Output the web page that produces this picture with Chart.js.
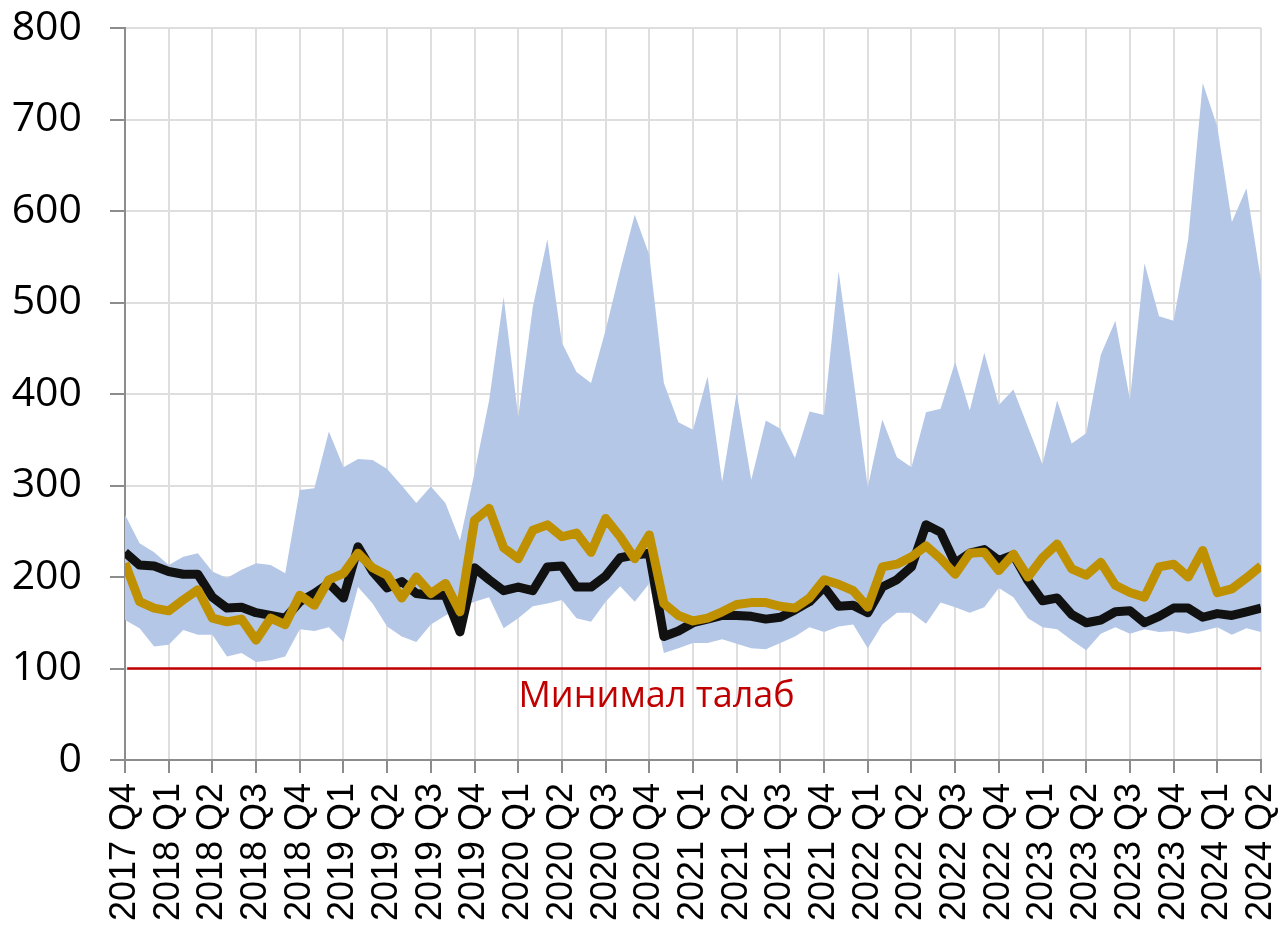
<!DOCTYPE html>
<html>
<head>
<meta charset="utf-8">
<script src="https://cdn.jsdelivr.net/npm/chart.js@4.4.0/dist/chart.umd.min.js"></script>
<style>
  html, body { margin: 0; padding: 0; background: #fff; }
  #wrap { width: 1281px; height: 933px; position: relative; }
</style>
</head>
<body>
<div id="wrap"><canvas id="chart"></canvas></div>
<script>
// Quarter tick labels (one every 3 monthly points)
const quarterLabels = [
  '2017 Q4', '2018 Q1', '2018 Q2', '2018 Q3', '2018 Q4', '2019 Q1', '2019 Q2', '2019 Q3', '2019 Q4',
  '2020 Q1', '2020 Q2', '2020 Q3', '2020 Q4', '2021 Q1', '2021 Q2', '2021 Q3', '2021 Q4',
  '2022 Q1', '2022 Q2', '2022 Q3', '2022 Q4', '2023 Q1', '2023 Q2', '2023 Q3', '2023 Q4',
  '2024 Q1', '2024 Q2'
];

// Band: upper and lower edge (monthly)
const bandUpper = [
  268, 237, 227, 213, 222, 226, 206, 199, 208, 215, 213, 204, 295, 297, 359, 320, 329, 328, 318, 300,
  281, 299, 281, 240, 314, 393, 506, 375, 495, 569, 456, 424, 412, 470, 535, 596, 552, 412, 369, 361,
  419, 304, 401, 306, 371, 362, 330, 381, 377, 534, 418, 298, 372, 331, 320, 380, 384, 435, 382, 445,
  388, 405, 364, 323, 393, 346, 357, 443, 480, 394, 543, 485, 480, 569, 740, 692, 588, 625, 524
];
const bandLower = [
  153, 144, 124, 126, 142, 137, 137, 113, 117, 107, 109, 113, 143, 141, 145, 129, 189, 171, 146, 135,
  129, 148, 158, 166, 173, 178, 144, 155, 168, 171, 175, 155, 151, 173, 190, 173, 193, 117, 122, 128,
  128, 132, 127, 122, 121, 128, 135, 145, 140, 146, 148, 122, 148, 161, 161, 149, 172, 167, 161, 167,
  188, 178, 155, 145, 143, 131, 120, 138, 145, 138, 143, 140, 141, 138, 141, 145, 137, 144, 140
];

// Black line
const blackLine = [
  227, 213, 212, 206, 203, 203, 178, 166, 167, 161, 158, 155, 173, 182, 193, 177, 233, 206, 188, 195,
  182, 180, 180, 140, 210, 197, 185, 189, 185, 211, 212, 189, 189, 201, 221, 224, 226, 135, 141, 150,
  154, 158, 158, 157, 154, 156, 164, 173, 189, 168, 169, 161, 189, 197, 211, 257, 249, 215, 226, 230,
  218, 224, 196, 174, 177, 159, 150, 153, 162, 163, 150, 157, 166, 166, 156, 160, 158, 162, 166
];

// Gold line
const goldLine = [
  215, 173, 166, 163, 175, 186, 155, 151, 154, 131, 155, 148, 180, 169, 197, 204, 226, 210, 202, 177,
  200, 182, 193, 162, 262, 275, 232, 220, 251, 257, 244, 248, 227, 264, 244, 220, 246, 171, 158, 152,
  155, 162, 170, 172, 172, 168, 166, 177, 197, 192, 185, 167, 211, 214, 222, 234, 220, 203, 226, 227,
  207, 225, 200, 221, 236, 209, 202, 216, 191, 183, 178, 211, 214, 200, 229, 183, 187, 199, 212
];

const minLevel = 100;
const minLabel = 'Минимал талаб';

const toPoints = arr => arr.map((v, i) => ({ x: i, y: v }));
const lastIndex = bandUpper.length - 1;

// red caption under the minimum line
const minLabelPlugin = {
  id: 'minLabel',
  afterDatasetsDraw(chart) {
    const ctx = chart.ctx;
    const xs = chart.scales.x;
    const ys = chart.scales.y;
    ctx.save();
    ctx.font = '36px "Open Sans"';
    ctx.fillStyle = '#c00000';
    ctx.textAlign = 'center';
    ctx.textBaseline = 'middle';
    ctx.fillText(minLabel, xs.getPixelForValue(36.5), ys.getPixelForValue(69));
    ctx.restore();
  }
};

new Chart(document.getElementById('chart'), {
  type: 'line',
  data: {
    datasets: [
      {
        label: 'upper',
        data: toPoints(bandUpper),
        borderWidth: 0,
        borderColor: 'rgba(0,0,0,0)',
        backgroundColor: '#b4c7e7',
        pointRadius: 0,
        fill: 1,
        order: 5
      },
      {
        label: 'lower',
        data: toPoints(bandLower),
        borderWidth: 0,
        borderColor: 'rgba(0,0,0,0)',
        pointRadius: 0,
        fill: false,
        order: 5
      },
      {
        label: 'min',
        data: [{ x: 0.15, y: minLevel }, { x: lastIndex, y: minLevel }],
        borderColor: '#c00000',
        borderWidth: 2.5,
        pointRadius: 0,
        fill: false,
        order: 3
      },
      {
        label: 'black',
        data: toPoints(blackLine),
        borderColor: '#111111',
        borderWidth: 9,
        borderJoinStyle: 'round',
        pointRadius: 0,
        fill: false,
        order: 2
      },
      {
        label: 'gold',
        data: toPoints(goldLine),
        borderColor: '#bf9000',
        borderWidth: 9,
        borderJoinStyle: 'round',
        pointRadius: 0,
        fill: false,
        order: 1
      }
    ]
  },
  options: {
    responsive: true,
    maintainAspectRatio: false,
    animation: false,
    layout: { padding: { top: 28, right: 20, left: 0, bottom: 0 } },
    plugins: {
      legend: { display: false },
      tooltip: { enabled: false }
    },
    scales: {
      x: {
        type: 'linear',
        min: 0,
        max: lastIndex,
        afterFit(scale) {
          scale.height = 173;
          scale.paddingLeft = 0;
          scale.paddingRight = 0;
        },
        border: { color: '#8c8c8c', width: 2 },
        grid: { color: '#dedede', lineWidth: 2, tickColor: '#8c8c8c', tickLength: 13 },
        ticks: {
          stepSize: 3,
          autoSkip: false,
          maxRotation: 90,
          minRotation: 90,
          padding: 10,
          color: '#000',
          font: { family: '"Liberation Sans", Arial, sans-serif', size: 36 },
          callback: v => quarterLabels[v / 3]
        }
      },
      y: {
        min: 0,
        max: 800,
        afterFit(scale) {
          scale.width = 125;
          scale.paddingTop = 0;
          scale.paddingBottom = 0;
        },
        border: { color: '#8c8c8c', width: 2 },
        grid: { color: '#dedede', lineWidth: 2, tickColor: '#8c8c8c', tickLength: 15 },
        ticks: {
          stepSize: 100,
          padding: 28,
          color: '#000',
          font: { family: '"Open Sans", sans-serif', size: 41 }
        }
      }
    }
  },
  plugins: [minLabelPlugin]
});
</script>
</body>
</html>
